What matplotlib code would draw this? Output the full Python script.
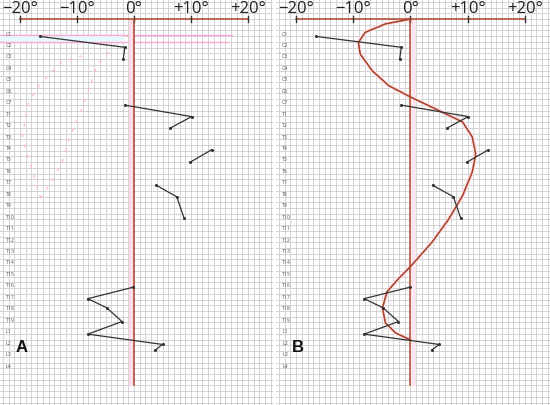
import matplotlib
matplotlib.use('Agg')
import matplotlib.pyplot as plt

plt.rcParams['font.family'] = ['Open Sans', 'DejaVu Sans']

# vertebra levels (top to bottom)
LEVELS = ['C1', 'C2', 'C3', 'C4', 'C5', 'C6', 'C7'] + \
         ['T%d' % i for i in range(1, 20)] + ['L1', 'L2', 'L3', 'L4']

DEG_TICKS = [-20, -10, 0, 10, 20]
DEG_LABELS = ['\u221220\u00b0', '\u221210\u00b0', '0\u00b0', '+10\u00b0', '+20\u00b0']

# measured angles (deg) along the spine, y in level index (C1 = 0)
SEG_X = [
    [-16.5, -1.6, -1.9],
    [-1.6, 10.1, 6.4],
    [13.6, 9.8],
    [3.9, 7.5, 8.8],
    [-0.1, -8.1, -4.8, -2.1, -8.1, 5.0, 3.7],
]
SEG_Y = [
    [0.3, 1.25, 2.3],
    [6.3, 7.3, 8.3],
    [10.2, 11.3],
    [13.3, 14.3, 16.2],
    [22.2, 23.2, 24.0, 25.2, 26.3, 27.2, 27.7],
]

# fitted curve (panel B)
CURVE_X = [0, -4.4, -7.9, -9.1, -8.8, -6.7, -3.8, 0, 4.4, 9.1, 10.8, 11.4,
           10.8, 9.1, 6.7, 3.8, 0, -2.0, -4.1, -4.9, -4.4, -2.6, 0]
CURVE_Y = [-1.22, -0.79, -0.06, 0.81, 1.83, 3.29, 4.6, 5.59, 6.64, 7.77, 9.08,
           10.6, 12.14, 14.21, 16.24, 18.25, 20.4, 21.4, 22.6, 24.0, 25.3, 26.2, 26.8]

# faint ghost traces seen in panel A
GHOST1_X = [-9.1, -12.5, -16.5, -18.6, -19.6, -19.1, -18.2, -17.4, -16.1]
GHOST1_Y = [2.0, 2.45, 4.45, 6.2, 9.0, 10.1, 11.4, 12.75, 14.9]
GHOST2_X = [-3.3, -6.5, -9.1, -11.2, -12.6, -14.7, -16.8]
GHOST2_Y = [0.96, 2.9, 6.6, 9.0, 11.3, 13.2, 14.7]

PX_DEG = 5.7      # pixels per degree
PX_LEVEL = 11.45  # pixels per vertebra
AXIS_Y = -1.22    # level of the top degree axis
LINE_END = 30.7   # bottom of the vertical zero line

RED = '#a9472b'
GRID = '#cccccc'


def draw_panel(ax, letter, curve=False, ghosts=False):
    w_px, h_px = 273, 406
    x0 = -134 / PX_DEG
    x1 = x0 + w_px / PX_DEG
    y0 = -34 / PX_LEVEL
    y1 = y0 + h_px / PX_LEVEL
    ax.set_xlim(x0, x1)
    ax.set_ylim(y1, y0)
    ax.axis('off')

    # graph paper
    k = -24
    while k <= 25:
        ax.axvline(k, color=GRID, lw=0.6, zorder=0)
        k += 1
    v = AXIS_Y - 0.5 * 6
    while v <= y1:
        ax.axhline(v, color=GRID, lw=0.6, zorder=0)
        v += 0.5

    if ghosts:
        ax.axhspan(0.17, 0.81, xmin=0, xmax=0.45, color='#e6fbff', zorder=1)
        ax.plot([x0, 17.2], [0.17, 0.17], color='#ffa6d4', lw=1.0, zorder=1)
        ax.plot([x0, 16.3], [0.81, 0.81], color='#ffa6d4', lw=1.0, zorder=1)
        ax.plot(GHOST1_X, GHOST1_Y, color='#ffb3da', lw=0.9, ls=(0, (2.5, 6)), zorder=1)
        ax.plot(GHOST2_X, GHOST2_Y, color='#ffb3da', lw=0.9, ls=(0, (2.5, 6)), zorder=1)
        ax.fill_betweenx([AXIS_Y, LINE_END], -0.9, -0.15, color='#ffdcea', zorder=1)
    else:
        ax.plot(CURVE_X, CURVE_Y, color='#ffe4ee', lw=3, zorder=1)
        ax.fill_betweenx([AXIS_Y, LINE_END], 0, 0.8, color='#ffe6ef', zorder=1)

    # top degree axis
    ax.plot([-20, 20], [AXIS_Y, AXIS_Y], color=RED, lw=1.1, zorder=3)
    for t, lab in zip(DEG_TICKS, DEG_LABELS):
        ax.plot([t, t], [AXIS_Y - 0.27, AXIS_Y + 0.27], color='#333333', lw=1, zorder=3)
        ax.text(t, AXIS_Y - 0.95, lab, ha='center', va='center', fontsize=12,
                color='#222222', zorder=4)

    # zero line
    ax.plot([0, 0], [AXIS_Y, LINE_END], color=RED, lw=1.1, zorder=3)

    for i, name in enumerate(LEVELS):
        ax.text(x0 + 6 / PX_DEG, i, name, ha='left', va='center', fontsize=3.8,
                color='#555555', zorder=4)

    if curve:
        ax.plot(CURVE_X, CURVE_Y, color=RED, lw=1.2, zorder=4)

    for xs, ys in zip(SEG_X, SEG_Y):
        ax.plot(xs, ys, color='#333333', lw=0.9, marker='o', ms=1.2, zorder=5)

    ax.text(x0 + 16 / PX_DEG, 27.4, letter, ha='left', va='center',
            fontsize=12, fontweight='bold', color='#111111',
            family=['Liberation Sans', 'DejaVu Sans'], zorder=6)


fig = plt.figure(figsize=(5.5, 4.06), dpi=100)
ax_a = fig.add_axes([0, 0, 273 / 550, 1])
ax_b = fig.add_axes([276 / 550, 0, 274 / 550, 1])
draw_panel(ax_a, 'A', curve=False, ghosts=True)
draw_panel(ax_b, 'B', curve=True, ghosts=False)

fig.savefig('out.png', dpi=100)
